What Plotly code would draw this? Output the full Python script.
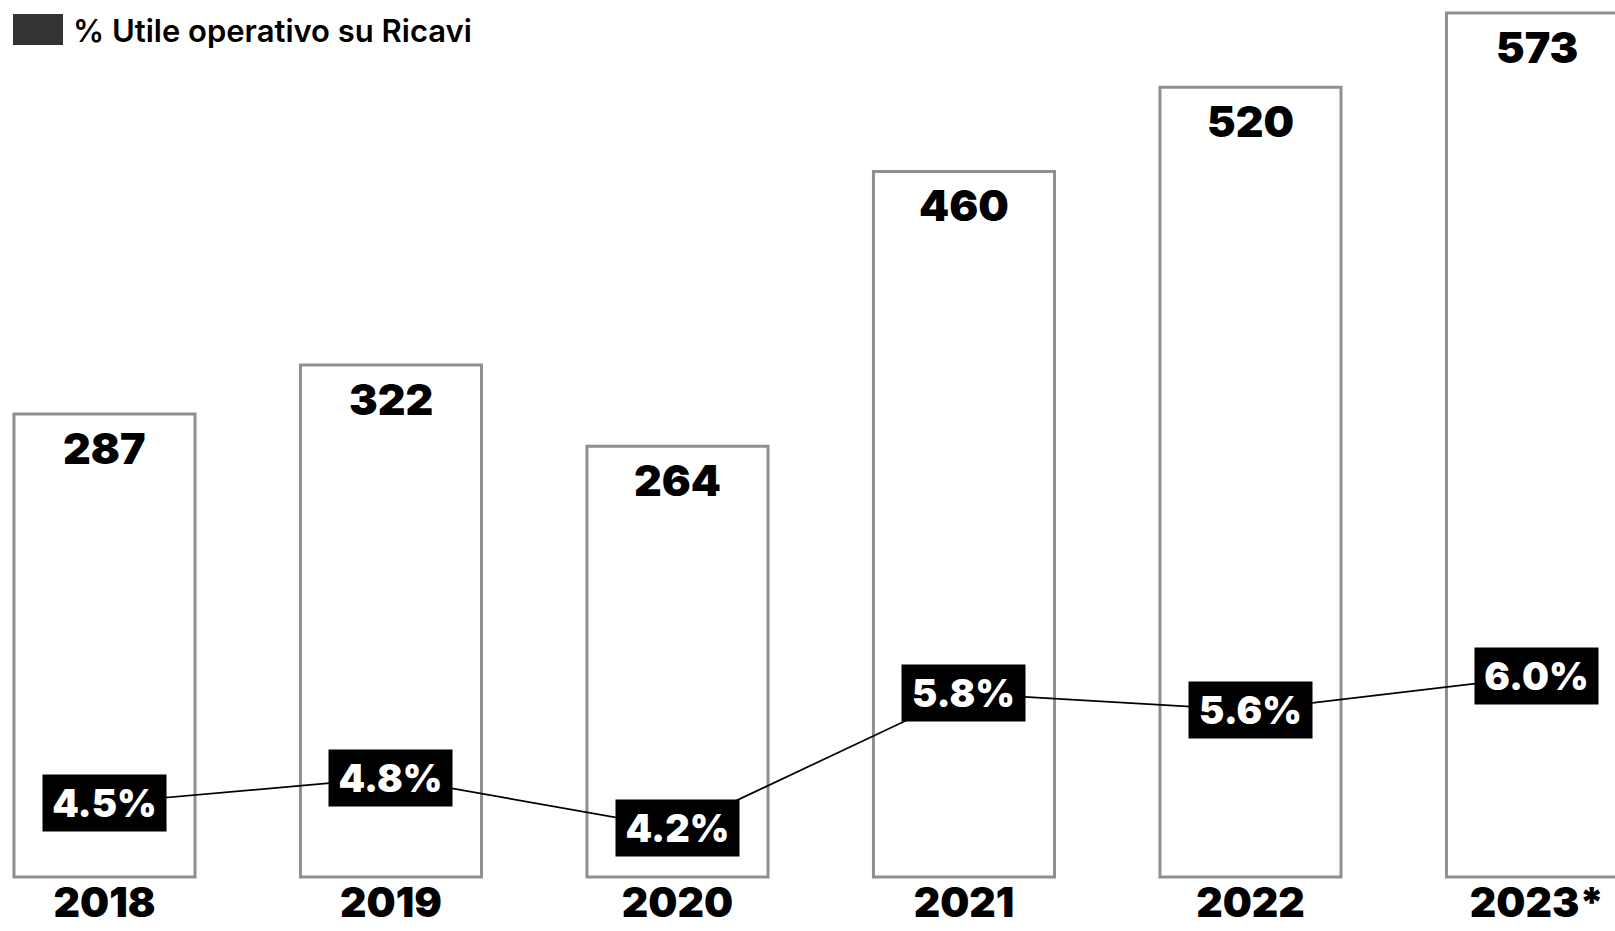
import plotly.graph_objects as go

# Data
years = ['2018', '2019', '2020', '2021', '2022', '2023*']
utile_operativo = [287, 322, 264, 460, 520, 573]
pct_su_ricavi = [4.5, 4.8, 4.2, 5.8, 5.6, 6.0]
pct_labels = ['4.5%', '4.8%', '4.2%', '5.8%', '5.6%', '6.0%']
legend_label = '% Utile operativo su Ricavi'

# Style
HEAVY = dict(family='Inter, Lato, "Open Sans", sans-serif', weight=900, color='black')
W, H = 1615, 931
PLOT_H = 881
Y_RANGE = [-45.84, 582.2]
Y_BASE = -42.99
Y2_RANGE = [3.576, 14.012]
X_RANGE = [-0.3647, 5.2723]

fig = go.Figure()

# Bars (outlined, white fill)
fig.add_trace(go.Bar(
    x=years, y=[v - Y_BASE for v in utile_operativo], base=Y_BASE,
    width=0.632,
    marker=dict(color='white', line=dict(color='#8f8f8f', width=3)),
    hoverinfo='skip', showlegend=False,
))

# Percentage line on secondary axis
fig.add_trace(go.Scatter(
    x=years, y=pct_su_ricavi, yaxis='y2', mode='lines',
    line=dict(color='black', width=1.7),
    hoverinfo='skip', showlegend=False,
))

# Value labels inside the bars (x by category index, '2018' would be read as a number)
for i, v in enumerate(utile_operativo):
    fig.add_annotation(x=i, y=v, xref='x', yref='y', yanchor='top', yshift=-6,
                       text=str(v), showarrow=False, font=dict(HEAVY, size=43))

# Percentage labels on black boxes
for i, (p, lab) in enumerate(zip(pct_su_ricavi, pct_labels)):
    fig.add_annotation(x=i, y=p, xref='x', yref='y2', text=lab, showarrow=False,
                       bgcolor='black', width=115, height=48, borderpad=4,
                       font=dict(HEAVY, size=38, color='white'))

# Legend swatch + text
fig.add_shape(type='rect', xref='paper', yref='paper',
              x0=13 / W, x1=63 / W, y0=1 - 45 / PLOT_H, y1=1 - 14 / PLOT_H,
              fillcolor='#333333', line=dict(width=0))
fig.add_annotation(x=71 / W, y=1 - 31 / PLOT_H, xref='paper', yref='paper',
                   xanchor='left', yanchor='middle', showarrow=False, text=legend_label,
                   font=dict(family='Inter, Lato, sans-serif', weight=600, size=31, color='black'))

fig.update_layout(
    width=W, height=H,
    margin=dict(l=0, r=0, t=0, b=H - PLOT_H),
    plot_bgcolor='white', paper_bgcolor='white',
    xaxis=dict(type='category', range=X_RANGE, showgrid=False, zeroline=False, automargin=False,
               showline=False, ticks='', ticklabelstandoff=-6, tickfont=dict(HEAVY, size=41)),
    yaxis=dict(range=Y_RANGE, visible=False, showgrid=False, zeroline=False),
    yaxis2=dict(range=Y2_RANGE, overlaying='y', visible=False, showgrid=False, zeroline=False),
    showlegend=False,
)

# drop the default body margin so the figure sits at the page corner
fig.write_html('out.html', config={'displayModeBar': False},
               post_script="document.body.style.margin = '0';")
